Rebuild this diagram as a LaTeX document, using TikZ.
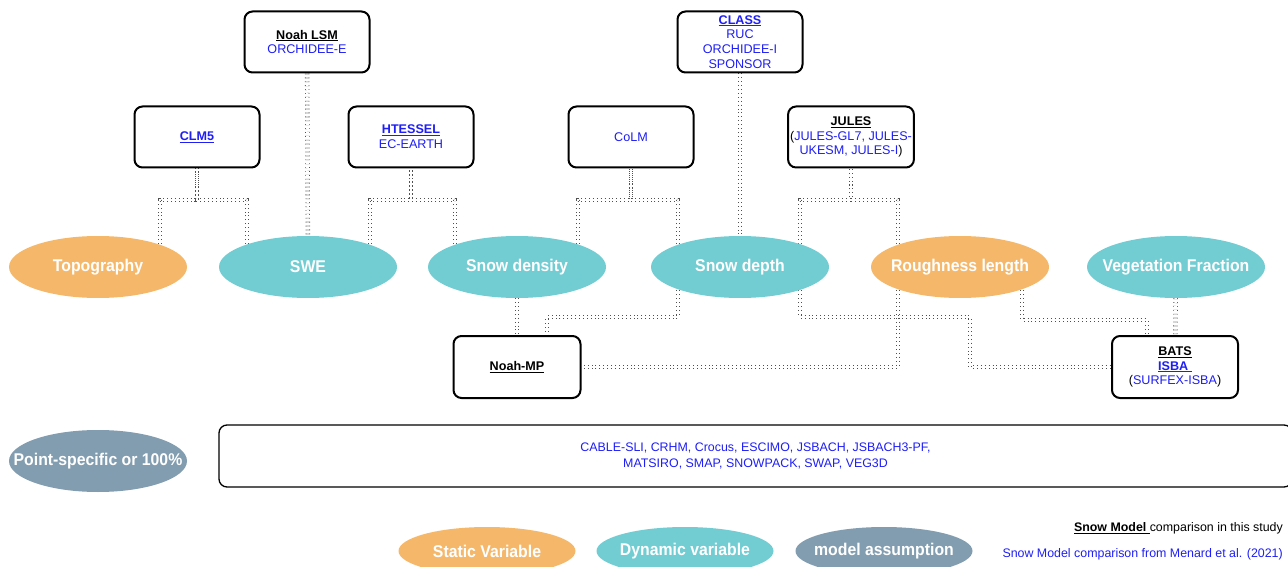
\documentclass[tikz,border=0pt]{standalone}
\usepackage{fontspec}
\setmainfont{Liberation Sans}
\newfontfamily\condfont{Liberation Sans}[FakeStretch=0.93]
\usetikzlibrary{shapes.geometric,calc,backgrounds}
\definecolor{orng}{RGB}{245,184,107}
\definecolor{tealv}{RGB}{114,205,211}
\definecolor{slate}{RGB}{130,157,175}
\definecolor{mblue}{RGB}{30,30,245}
\definecolor{dotc}{RGB}{80,80,80}
\newcommand{\mb}[1]{\textcolor{mblue}{#1}}
\newcommand{\zb}[1]{\makebox[0pt][c]{#1}}
\begin{document}
\begin{tikzpicture}[x=1pt,y=-1pt,
  var/.style={ellipse, minimum width=178pt, minimum height=62pt, inner sep=0pt, text=white,
    font=\condfont\bfseries\fontsize{17}{20}\selectfont},
  statv/.style={var, fill=orng},
  dynv/.style={var, fill=tealv},
  assum/.style={var, fill=slate},
  legv/.style={minimum width=177pt, minimum height=48pt},
  model/.style={draw, line width=2pt, rounded corners=8pt, fill=white, minimum width=125pt,
    minimum height=61pt, align=center, inner sep=2pt, font=\fontsize{12.6}{14.8}\selectfont},
  conn/.style={draw=dotc, line width=0.8pt, double=white, double distance=2.8pt,
    dash pattern=on 0.9pt off 3pt},
  legt/.style={anchor=east, inner sep=0pt, font=\fontsize{12.4}{15}\selectfont}
]
\useasboundingbox (0,0) rectangle (1288,567);

% model boxes
\node[model] (noahlsm) at (307,42) {\underline{\textbf{Noah LSM}}\\\mb{ORCHIDEE-E}};
\node[model] (clm) at (197,137) {\mb{\underline{\textbf{CLM5}}}};
\node[model] (htessel) at (411,137) {\mb{\underline{\textbf{HTESSEL}}}\\\mb{EC-EARTH}};
\node[model] (class) at (740,42) {\mb{\underline{\textbf{CLASS}}}\\\mb{RUC}\\\mb{ORCHIDEE-I}\\\mb{SPONSOR}};
\node[model] (colm) at (631,137) {\mb{CoLM}};
\node[model] (jules) at (851,137) {\underline{\textbf{JULES}}\\(\mb{JULES-GL7, JULES-}\\\mb{UKESM, JULES-I})};
\node[model, minimum width=127pt, minimum height=62pt] (noahmp) at (517,367) {\underline{\textbf{Noah-MP}}};
\node[model, minimum width=126pt, minimum height=62pt] (bats) at (1175,367) {\underline{\textbf{BATS}}\\\mb{\underline{\textbf{ISBA}\ }}\\(\mb{SURFEX-ISBA})};

% variables
\node[statv] (topo) at (98,267) {\zb{Topography}};
\node[dynv] (swe) at (308,267) {\zb{SWE}};
\node[dynv] (dens) at (517,267) {\zb{Snow density}};
\node[dynv] (depth) at (740,267) {\zb{Snow depth}};
\node[statv] (rough) at (960,267) {\zb{Roughness length}};
\node[dynv] (veg) at (1176,267) {\zb{Vegetation Fraction}};
\node[assum] (point) at (98,461) {\zb{Point-specific or 100\%}};

% wide box
\node[draw, line width=1.3pt, rounded corners=8pt, minimum width=1073pt, minimum height=62pt,
  align=center, font=\fontsize{12.4}{16}\selectfont, text=mblue] (rest) at (755.5,456)
  {CABLE-SLI, CRHM, Crocus, ESCIMO, JSBACH, JSBACH3-PF,\\MATSIRO, SMAP, SNOWPACK, SWAP, VEG3D};

% legend
\node[statv, legv] (lstat) at (487,551) {\zb{Static Variable}};
\node[dynv, legv] (ldyn) at (685,551) {\zb{Dynamic variable}};
\node[assum, legv] (lassum) at (884,551) {\zb{model assumption}};
\node[legt] (lthis) at (1283,528) {\underline{\textbf{Snow Model}\ }comparison in this study};
\node[legt, text=mblue] (lmen) at (1283,554) {Snow Model comparison from Menard et al. (2021)};

\begin{pgfonlayer}{background}
  % CLM5
  \draw[conn] ($(topo)+(62,0)$) -- ++(0,-67) -| (clm);
  \draw[conn] ($(swe)+(-61,0)$) -- ++(0,-67) -| (clm);
  % Noah LSM
  \draw[conn] (noahlsm) -- (swe);
  % HTESSEL
  \draw[conn] ($(swe)+(62,0)$) -- ++(0,-67) -| (htessel);
  \draw[conn] ($(dens)+(-62,0)$) -- ++(0,-67) -| (htessel);
  % CoLM
  \draw[conn] ($(dens)+(61,0)$) -- ++(0,-67) -| (colm);
  \draw[conn] ($(depth)+(-62,0)$) -- ++(0,-67) -| (colm);
  % CLASS
  \draw[conn] (class) -- (depth);
  % JULES
  \draw[conn] ($(depth)+(60,0)$) -- ++(0,-67) -| (jules);
  \draw[conn] ($(rough)+(-62,0)$) -- ++(0,-67) -| (jules);
  % Noah-MP
  \draw[conn] (dens) -- (noahmp);
  \draw[conn] ($(depth)+(-62,0)$) -- ++(0,50) -| ($(noahmp)+(30,0)$);
  \draw[conn] ($(rough)+(-62,0)$) |- (noahmp);
  % BATS
  \draw[conn] ($(depth)+(60,0)$) -- ++(0,50) -| ($(bats)+(-205,0)$) -- (bats);
  \draw[conn] ($(rough)+(62,0)$) -- ++(0,53) -| ($(bats)+(-28,0)$);
  \draw[conn] (veg) -- (bats);
\end{pgfonlayer}
\end{tikzpicture}
\end{document}
